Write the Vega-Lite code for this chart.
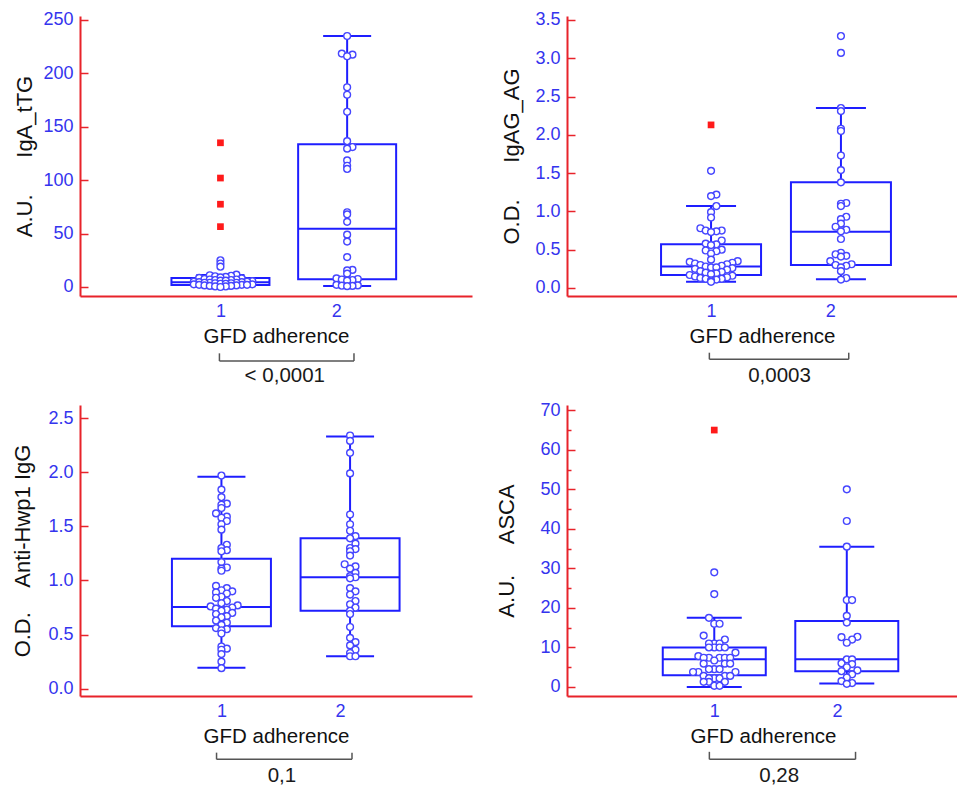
{
"$schema": "https://vega.github.io/schema/vega-lite/v6.json",
"background": "white",
"padding": {"left": 11, "top": 10, "right": 0, "bottom": 0},
"bounds": "flush",
"align": "all",
"columns": 2,
"spacing": {"row": 98, "column": 95},
"datasets": {
"boxes": [
{"p":1,"g":1,"lo":0,"q1":1.8,"med":4.5,"q3":8.4,"hi":11.2},
{"p":1,"g":2,"lo":0.9,"q1":7.2,"med":54.6,"q3":133.6,"hi":235},
{"p":2,"g":1,"lo":0.083,"q1":0.17,"med":0.28,"q3":0.57,"hi":1.07},
{"p":2,"g":2,"lo":0.113,"q1":0.30,"med":0.735,"q3":1.38,"hi":2.35},
{"p":3,"g":1,"lo":0.194,"q1":0.576,"med":0.755,"q3":1.20,"hi":1.96},
{"p":3,"g":2,"lo":0.30,"q1":0.72,"med":1.03,"q3":1.39,"hi":2.33},
{"p":4,"g":1,"lo":0,"q1":3.0,"med":7.0,"q3":10.0,"hi":17.5},
{"p":4,"g":2,"lo":0.9,"q1":4.0,"med":7.0,"q3":16.7,"hi":35.5}
],
"far": [
{"p":1,"g":1,"v":135},{"p":1,"g":1,"v":102},{"p":1,"g":1,"v":77.5},{"p":1,"g":1,"v":56.5},
{"p":2,"g":1,"v":2.13},
{"p":4,"g":1,"v":65}
],
"pts": [
{"p":1,"g":1,"v":25},{"p":1,"g":1,"v":22},{"p":1,"g":1,"v":19},{"p":1,"g":1,"v":11.5},{"p":1,"g":1,"v":11},{"p":1,"g":1,"v":10.5},{"p":1,"g":1,"v":10},{"p":1,"g":1,"v":9.5},{"p":1,"g":1,"v":9},{"p":1,"g":1,"v":8.5},{"p":1,"g":1,"v":8},{"p":1,"g":1,"v":7.5},{"p":1,"g":1,"v":7},{"p":1,"g":1,"v":7},{"p":1,"g":1,"v":6.5},{"p":1,"g":1,"v":6.5},{"p":1,"g":1,"v":6},{"p":1,"g":1,"v":6},{"p":1,"g":1,"v":5.5},{"p":1,"g":1,"v":5},{"p":1,"g":1,"v":5},{"p":1,"g":1,"v":4.5},{"p":1,"g":1,"v":4.5},{"p":1,"g":1,"v":4},{"p":1,"g":1,"v":4},{"p":1,"g":1,"v":4},{"p":1,"g":1,"v":3.5},{"p":1,"g":1,"v":3.5},{"p":1,"g":1,"v":3},{"p":1,"g":1,"v":3},{"p":1,"g":1,"v":2.5},{"p":1,"g":1,"v":2.5},{"p":1,"g":1,"v":2},{"p":1,"g":1,"v":2},{"p":1,"g":1,"v":2},{"p":1,"g":1,"v":1.5},{"p":1,"g":1,"v":1.5},{"p":1,"g":1,"v":1},{"p":1,"g":1,"v":1},{"p":1,"g":1,"v":0.5},{"p":1,"g":1,"v":0.5},{"p":1,"g":1,"v":0},
{"p":1,"g":2,"v":235},{"p":1,"g":2,"v":218.5},{"p":1,"g":2,"v":217.5},{"p":1,"g":2,"v":216},{"p":1,"g":2,"v":187},{"p":1,"g":2,"v":180},{"p":1,"g":2,"v":164},{"p":1,"g":2,"v":136.5},{"p":1,"g":2,"v":131},{"p":1,"g":2,"v":129.5},{"p":1,"g":2,"v":118.5},{"p":1,"g":2,"v":113.5},{"p":1,"g":2,"v":110.5},{"p":1,"g":2,"v":70},{"p":1,"g":2,"v":68},{"p":1,"g":2,"v":61},{"p":1,"g":2,"v":49},{"p":1,"g":2,"v":42.5},{"p":1,"g":2,"v":28},{"p":1,"g":2,"v":16},{"p":1,"g":2,"v":15.5},{"p":1,"g":2,"v":12.5},{"p":1,"g":2,"v":8},{"p":1,"g":2,"v":7.5},{"p":1,"g":2,"v":7},{"p":1,"g":2,"v":6.5},{"p":1,"g":2,"v":6},{"p":1,"g":2,"v":2},{"p":1,"g":2,"v":1.5},{"p":1,"g":2,"v":1.2},{"p":1,"g":2,"v":1},{"p":1,"g":2,"v":0.8},
{"p":2,"g":1,"v":1.53},{"p":2,"g":1,"v":1.22},{"p":2,"g":1,"v":1.20},{"p":2,"g":1,"v":1.07},{"p":2,"g":1,"v":0.99},{"p":2,"g":1,"v":0.92},{"p":2,"g":1,"v":0.78},{"p":2,"g":1,"v":0.75},{"p":2,"g":1,"v":0.75},{"p":2,"g":1,"v":0.74},{"p":2,"g":1,"v":0.73},{"p":2,"g":1,"v":0.62},{"p":2,"g":1,"v":0.58},{"p":2,"g":1,"v":0.57},{"p":2,"g":1,"v":0.56},{"p":2,"g":1,"v":0.50},{"p":2,"g":1,"v":0.49},{"p":2,"g":1,"v":0.48},{"p":2,"g":1,"v":0.45},{"p":2,"g":1,"v":0.37},{"p":2,"g":1,"v":0.35},{"p":2,"g":1,"v":0.34},{"p":2,"g":1,"v":0.33},{"p":2,"g":1,"v":0.32},{"p":2,"g":1,"v":0.31},{"p":2,"g":1,"v":0.30},{"p":2,"g":1,"v":0.29},{"p":2,"g":1,"v":0.28},{"p":2,"g":1,"v":0.27},{"p":2,"g":1,"v":0.27},{"p":2,"g":1,"v":0.26},{"p":2,"g":1,"v":0.25},{"p":2,"g":1,"v":0.24},{"p":2,"g":1,"v":0.22},{"p":2,"g":1,"v":0.21},{"p":2,"g":1,"v":0.20},{"p":2,"g":1,"v":0.19},{"p":2,"g":1,"v":0.18},{"p":2,"g":1,"v":0.17},{"p":2,"g":1,"v":0.16},{"p":2,"g":1,"v":0.15},{"p":2,"g":1,"v":0.14},{"p":2,"g":1,"v":0.13},{"p":2,"g":1,"v":0.12},{"p":2,"g":1,"v":0.12},{"p":2,"g":1,"v":0.11},{"p":2,"g":1,"v":0.10},{"p":2,"g":1,"v":0.08},
{"p":2,"g":2,"v":3.29},{"p":2,"g":2,"v":3.07},{"p":2,"g":2,"v":2.35},{"p":2,"g":2,"v":2.31},{"p":2,"g":2,"v":2.08},{"p":2,"g":2,"v":2.05},{"p":2,"g":2,"v":1.73},{"p":2,"g":2,"v":1.54},{"p":2,"g":2,"v":1.38},{"p":2,"g":2,"v":1.11},{"p":2,"g":2,"v":1.10},{"p":2,"g":2,"v":1.07},{"p":2,"g":2,"v":0.93},{"p":2,"g":2,"v":0.90},{"p":2,"g":2,"v":0.84},{"p":2,"g":2,"v":0.80},{"p":2,"g":2,"v":0.76},{"p":2,"g":2,"v":0.74},{"p":2,"g":2,"v":0.64},{"p":2,"g":2,"v":0.46},{"p":2,"g":2,"v":0.44},{"p":2,"g":2,"v":0.42},{"p":2,"g":2,"v":0.41},{"p":2,"g":2,"v":0.35},{"p":2,"g":2,"v":0.31},{"p":2,"g":2,"v":0.30},{"p":2,"g":2,"v":0.29},{"p":2,"g":2,"v":0.27},{"p":2,"g":2,"v":0.22},{"p":2,"g":2,"v":0.13},{"p":2,"g":2,"v":0.11},
{"p":3,"g":1,"v":1.97},{"p":3,"g":1,"v":1.84},{"p":3,"g":1,"v":1.77},{"p":3,"g":1,"v":1.71},{"p":3,"g":1,"v":1.70},{"p":3,"g":1,"v":1.67},{"p":3,"g":1,"v":1.62},{"p":3,"g":1,"v":1.59},{"p":3,"g":1,"v":1.58},{"p":3,"g":1,"v":1.55},{"p":3,"g":1,"v":1.52},{"p":3,"g":1,"v":1.47},{"p":3,"g":1,"v":1.33},{"p":3,"g":1,"v":1.30},{"p":3,"g":1,"v":1.28},{"p":3,"g":1,"v":1.27},{"p":3,"g":1,"v":1.17},{"p":3,"g":1,"v":1.12},{"p":3,"g":1,"v":1.11},{"p":3,"g":1,"v":1.09},{"p":3,"g":1,"v":0.95},{"p":3,"g":1,"v":0.93},{"p":3,"g":1,"v":0.91},{"p":3,"g":1,"v":0.90},{"p":3,"g":1,"v":0.89},{"p":3,"g":1,"v":0.88},{"p":3,"g":1,"v":0.85},{"p":3,"g":1,"v":0.84},{"p":3,"g":1,"v":0.81},{"p":3,"g":1,"v":0.79},{"p":3,"g":1,"v":0.77},{"p":3,"g":1,"v":0.76},{"p":3,"g":1,"v":0.75},{"p":3,"g":1,"v":0.74},{"p":3,"g":1,"v":0.73},{"p":3,"g":1,"v":0.72},{"p":3,"g":1,"v":0.70},{"p":3,"g":1,"v":0.69},{"p":3,"g":1,"v":0.67},{"p":3,"g":1,"v":0.66},{"p":3,"g":1,"v":0.63},{"p":3,"g":1,"v":0.61},{"p":3,"g":1,"v":0.59},{"p":3,"g":1,"v":0.56},{"p":3,"g":1,"v":0.55},{"p":3,"g":1,"v":0.54},{"p":3,"g":1,"v":0.51},{"p":3,"g":1,"v":0.39},{"p":3,"g":1,"v":0.37},{"p":3,"g":1,"v":0.36},{"p":3,"g":1,"v":0.32},{"p":3,"g":1,"v":0.25},{"p":3,"g":1,"v":0.19},
{"p":3,"g":2,"v":2.34},{"p":3,"g":2,"v":2.29},{"p":3,"g":2,"v":2.18},{"p":3,"g":2,"v":1.99},{"p":3,"g":2,"v":1.61},{"p":3,"g":2,"v":1.52},{"p":3,"g":2,"v":1.46},{"p":3,"g":2,"v":1.41},{"p":3,"g":2,"v":1.39},{"p":3,"g":2,"v":1.34},{"p":3,"g":2,"v":1.30},{"p":3,"g":2,"v":1.29},{"p":3,"g":2,"v":1.27},{"p":3,"g":2,"v":1.23},{"p":3,"g":2,"v":1.15},{"p":3,"g":2,"v":1.13},{"p":3,"g":2,"v":1.11},{"p":3,"g":2,"v":1.07},{"p":3,"g":2,"v":1.04},{"p":3,"g":2,"v":1.03},{"p":3,"g":2,"v":1.02},{"p":3,"g":2,"v":0.93},{"p":3,"g":2,"v":0.90},{"p":3,"g":2,"v":0.87},{"p":3,"g":2,"v":0.81},{"p":3,"g":2,"v":0.78},{"p":3,"g":2,"v":0.75},{"p":3,"g":2,"v":0.72},{"p":3,"g":2,"v":0.69},{"p":3,"g":2,"v":0.57},{"p":3,"g":2,"v":0.47},{"p":3,"g":2,"v":0.43},{"p":3,"g":2,"v":0.40},{"p":3,"g":2,"v":0.36},{"p":3,"g":2,"v":0.33},{"p":3,"g":2,"v":0.30},{"p":3,"g":2,"v":0.30},
{"p":4,"g":1,"v":29},{"p":4,"g":1,"v":23.5},{"p":4,"g":1,"v":17.5},{"p":4,"g":1,"v":16},{"p":4,"g":1,"v":16},{"p":4,"g":1,"v":13},{"p":4,"g":1,"v":12},{"p":4,"g":1,"v":11},{"p":4,"g":1,"v":11},{"p":4,"g":1,"v":11},{"p":4,"g":1,"v":10},{"p":4,"g":1,"v":10},{"p":4,"g":1,"v":10},{"p":4,"g":1,"v":10},{"p":4,"g":1,"v":8.7},{"p":4,"g":1,"v":7.8},{"p":4,"g":1,"v":7.4},{"p":4,"g":1,"v":7.4},{"p":4,"g":1,"v":7.4},{"p":4,"g":1,"v":7.4},{"p":4,"g":1,"v":7.4},{"p":4,"g":1,"v":6.7},{"p":4,"g":1,"v":5.9},{"p":4,"g":1,"v":5.9},{"p":4,"g":1,"v":5.9},{"p":4,"g":1,"v":4.5},{"p":4,"g":1,"v":4.5},{"p":4,"g":1,"v":4.5},{"p":4,"g":1,"v":3.8},{"p":4,"g":1,"v":3.8},{"p":4,"g":1,"v":3.8},{"p":4,"g":1,"v":2.8},{"p":4,"g":1,"v":2.8},{"p":4,"g":1,"v":2.8},{"p":4,"g":1,"v":2.2},{"p":4,"g":1,"v":2.2},{"p":4,"g":1,"v":2.2},{"p":4,"g":1,"v":1.3},{"p":4,"g":1,"v":1.3},{"p":4,"g":1,"v":1.3},{"p":4,"g":1,"v":0.3},{"p":4,"g":1,"v":0.3},
{"p":4,"g":2,"v":50},{"p":4,"g":2,"v":42},{"p":4,"g":2,"v":35.5},{"p":4,"g":2,"v":22},{"p":4,"g":2,"v":22},{"p":4,"g":2,"v":18},{"p":4,"g":2,"v":16.3},{"p":4,"g":2,"v":12.7},{"p":4,"g":2,"v":12.6},{"p":4,"g":2,"v":12},{"p":4,"g":2,"v":11.2},{"p":4,"g":2,"v":7},{"p":4,"g":2,"v":7},{"p":4,"g":2,"v":6},{"p":4,"g":2,"v":5.8},{"p":4,"g":2,"v":5},{"p":4,"g":2,"v":4.2},{"p":4,"g":2,"v":4},{"p":4,"g":2,"v":3.2},{"p":4,"g":2,"v":2.4},{"p":4,"g":2,"v":1.5},{"p":4,"g":2,"v":1},{"p":4,"g":2,"v":0.8}
]
},
"concat": [
{
"width": 392, "height": 280,
"layer": [
{"data": {"name": "boxes"}, "transform": [{"filter": "datum.p == 1"}],
 "mark": {"type": "rule", "color": "#1e1eff", "strokeWidth": 2},
 "encoding": {
  "x": {"field": "g", "type": "quantitative", "title": "GFD adherence", "scale": {"domain": [-0.069, 2.946], "nice": false, "zero": false}, "axis": {"values": [1, 1.915], "labelExpr": "datum.value < 1.5 ? '1' : '2'"}},
  "y": {"field": "lo", "type": "quantitative", "title": "A.U.\u00a0\u00a0\u00a0\u00a0\u00a0\u00a0IgA_tTG", "scale": {"domain": [-8.43, 253.7], "nice": false, "zero": false}, "axis": {"values": [0, 50, 100, 150, 200, 250], "labelOverlap": false, "titlePadding": 6}},
  "y2": {"field": "q1"}}},
{"data": {"name": "boxes"}, "transform": [{"filter": "datum.p == 1"}],
 "mark": {"type": "rule", "color": "#1e1eff", "strokeWidth": 2},
 "encoding": {"x": {"field": "g", "type": "quantitative", "title": "GFD adherence"}, "y": {"field": "q3", "type": "quantitative", "title": "A.U.\u00a0\u00a0\u00a0\u00a0\u00a0\u00a0IgA_tTG"}, "y2": {"field": "hi"}}},
{"data": {"name": "boxes"}, "transform": [{"filter": "datum.p == 1"}],
 "mark": {"type": "bar", "width": 98, "fill": "transparent", "stroke": "#1e1eff", "strokeWidth": 2},
 "encoding": {"x": {"field": "g", "type": "quantitative", "title": "GFD adherence"}, "y": {"field": "q1", "type": "quantitative", "title": "A.U.\u00a0\u00a0\u00a0\u00a0\u00a0\u00a0IgA_tTG"}, "y2": {"field": "q3"}}},
{"data": {"name": "boxes"}, "transform": [{"filter": "datum.p == 1"}],
 "mark": {"type": "tick", "orient": "horizontal", "size": 98, "thickness": 2, "color": "#1e1eff", "opacity": 1},
 "encoding": {"x": {"field": "g", "type": "quantitative", "title": "GFD adherence"}, "y": {"field": "med", "type": "quantitative", "title": "A.U.\u00a0\u00a0\u00a0\u00a0\u00a0\u00a0IgA_tTG"}}},
{"data": {"name": "boxes"}, "transform": [{"filter": "datum.p == 1"}, {"fold": ["lo", "hi"], "as": ["w", "c"]}],
 "mark": {"type": "tick", "orient": "horizontal", "size": 48, "thickness": 2, "color": "#1e1eff", "opacity": 1},
 "encoding": {"x": {"field": "g", "type": "quantitative", "title": "GFD adherence"}, "y": {"field": "c", "type": "quantitative", "title": "A.U.\u00a0\u00a0\u00a0\u00a0\u00a0\u00a0IgA_tTG"}}},
{"data": {"name": "pts"}, "transform": [{"filter": "datum.p == 1"}, {"calculate": "floor(datum.v / 3)", "as": "b"}, {"window": [{"op": "row_number", "as": "r"}], "groupby": ["g", "b"], "sort": [{"field": "v", "order": "ascending"}]}, {"calculate": "datum.g + (datum.r % 2 == 0 ? 1 : -1) * floor(datum.r / 2) * 0.042", "as": "xs"}],
 "mark": {"type": "point", "shape": "circle", "filled": true, "fill": "white", "stroke": "#4646ff", "strokeWidth": 1.4, "size": 46, "opacity": 1},
 "encoding": {"x": {"field": "xs", "type": "quantitative", "title": "GFD adherence"}, "y": {"field": "v", "type": "quantitative", "title": "A.U.\u00a0\u00a0\u00a0\u00a0\u00a0\u00a0IgA_tTG"}}},
{"data": {"name": "far"}, "transform": [{"filter": "datum.p == 1"}],
 "mark": {"type": "square", "color": "#ff1a1a", "size": 45, "opacity": 1},
 "encoding": {"x": {"field": "g", "type": "quantitative", "title": "GFD adherence"}, "y": {"field": "v", "type": "quantitative", "title": "A.U.\u00a0\u00a0\u00a0\u00a0\u00a0\u00a0IgA_tTG"}}},
{"data": {"values": [{}]}, "mark": {"type": "rule", "color": "#555555", "strokeWidth": 1.5},
 "encoding": {"x": {"datum": 0.992}, "x2": {"datum": 2.054}, "y": {"datum": -69.3}}},
{"data": {"values": [{}]}, "mark": {"type": "rule", "color": "#555555", "strokeWidth": 1.5},
 "encoding": {"x": {"datum": 0.992}, "y": {"datum": -69.3}, "y2": {"datum": -62.1}}},
{"data": {"values": [{}]}, "mark": {"type": "rule", "color": "#555555", "strokeWidth": 1.5},
 "encoding": {"x": {"datum": 2.054}, "y": {"datum": -69.3}, "y2": {"datum": -62.1}}},
{"data": {"values": [{}]}, "mark": {"type": "text", "text": "< 0,0001", "font": "Liberation Sans", "fontSize": 20.5, "color": "#1a1a1a", "align": "center", "baseline": "middle"},
 "encoding": {"x": {"datum": 1.508}, "y": {"datum": -83.3}}}
]
},
{
"width": 390, "height": 280,
"layer": [
{"data": {"name": "boxes"}, "transform": [{"filter": "datum.p == 2"}],
 "mark": {"type": "rule", "color": "#1e1eff", "strokeWidth": 2},
 "encoding": {
  "x": {"field": "g", "type": "quantitative", "title": "GFD adherence", "scale": {"domain": [-0.0705, 2.855], "nice": false, "zero": false}, "axis": {"values": [1, 1.917], "labelExpr": "datum.value < 1.5 ? '1' : '2'"}},
  "y": {"field": "lo", "type": "quantitative", "title": "O.D.\u00a0\u00a0\u00a0\u00a0\u00a0\u00a0IgAG_AG", "scale": {"domain": [-0.1045, 3.552], "nice": false, "zero": false}, "axis": {"values": [0, 0.5, 1, 1.5, 2, 2.5, 3, 3.5], "tickCount": 8, "format": ".1f", "labelOverlap": false, "labelSeparation": -30, "labelBound": false, "titlePadding": 11}},
  "y2": {"field": "q1"}}},
{"data": {"name": "boxes"}, "transform": [{"filter": "datum.p == 2"}],
 "mark": {"type": "rule", "color": "#1e1eff", "strokeWidth": 2},
 "encoding": {"x": {"field": "g", "type": "quantitative", "title": "GFD adherence"}, "y": {"field": "q3", "type": "quantitative", "title": "O.D.\u00a0\u00a0\u00a0\u00a0\u00a0\u00a0IgAG_AG"}, "y2": {"field": "hi"}}},
{"data": {"name": "boxes"}, "transform": [{"filter": "datum.p == 2"}],
 "mark": {"type": "bar", "width": 100, "fill": "transparent", "stroke": "#1e1eff", "strokeWidth": 2},
 "encoding": {"x": {"field": "g", "type": "quantitative", "title": "GFD adherence"}, "y": {"field": "q1", "type": "quantitative", "title": "O.D.\u00a0\u00a0\u00a0\u00a0\u00a0\u00a0IgAG_AG"}, "y2": {"field": "q3"}}},
{"data": {"name": "boxes"}, "transform": [{"filter": "datum.p == 2"}],
 "mark": {"type": "tick", "orient": "horizontal", "size": 100, "thickness": 2, "color": "#1e1eff", "opacity": 1},
 "encoding": {"x": {"field": "g", "type": "quantitative", "title": "GFD adherence"}, "y": {"field": "med", "type": "quantitative", "title": "O.D.\u00a0\u00a0\u00a0\u00a0\u00a0\u00a0IgAG_AG"}}},
{"data": {"name": "boxes"}, "transform": [{"filter": "datum.p == 2"}, {"fold": ["lo", "hi"], "as": ["w", "c"]}],
 "mark": {"type": "tick", "orient": "horizontal", "size": 50, "thickness": 2, "color": "#1e1eff", "opacity": 1},
 "encoding": {"x": {"field": "g", "type": "quantitative", "title": "GFD adherence"}, "y": {"field": "c", "type": "quantitative", "title": "O.D.\u00a0\u00a0\u00a0\u00a0\u00a0\u00a0IgAG_AG"}}},
{"data": {"name": "pts"}, "transform": [{"filter": "datum.p == 2"}, {"calculate": "floor(datum.v / 0.09 + 0.0001)", "as": "b"}, {"window": [{"op": "row_number", "as": "r"}], "groupby": ["g", "b"], "sort": [{"field": "v", "order": "ascending"}]}, {"calculate": "datum.g + (datum.r % 2 == 0 ? 1 : -1) * floor(datum.r / 2) * 0.041", "as": "xs"}],
 "mark": {"type": "point", "shape": "circle", "filled": true, "fill": "white", "stroke": "#4646ff", "strokeWidth": 1.4, "size": 46, "opacity": 1},
 "encoding": {"x": {"field": "xs", "type": "quantitative", "title": "GFD adherence"}, "y": {"field": "v", "type": "quantitative", "title": "O.D.\u00a0\u00a0\u00a0\u00a0\u00a0\u00a0IgAG_AG"}}},
{"data": {"name": "far"}, "transform": [{"filter": "datum.p == 2"}],
 "mark": {"type": "square", "color": "#ff1a1a", "size": 45, "opacity": 1},
 "encoding": {"x": {"field": "g", "type": "quantitative", "title": "GFD adherence"}, "y": {"field": "v", "type": "quantitative", "title": "O.D.\u00a0\u00a0\u00a0\u00a0\u00a0\u00a0IgAG_AG"}}},
{"data": {"values": [{}]}, "mark": {"type": "rule", "color": "#555555", "strokeWidth": 1.5},
 "encoding": {"x": {"datum": 0.987}, "x2": {"datum": 2.06}, "y": {"datum": -0.931}}},
{"data": {"values": [{}]}, "mark": {"type": "rule", "color": "#555555", "strokeWidth": 1.5},
 "encoding": {"x": {"datum": 0.987}, "y": {"datum": -0.931}, "y2": {"datum": -0.845}}},
{"data": {"values": [{}]}, "mark": {"type": "rule", "color": "#555555", "strokeWidth": 1.5},
 "encoding": {"x": {"datum": 2.06}, "y": {"datum": -0.931}, "y2": {"datum": -0.845}}},
{"data": {"values": [{}]}, "mark": {"type": "text", "text": "0,0003", "font": "Liberation Sans", "fontSize": 20.5, "color": "#1a1a1a", "align": "center", "baseline": "middle"},
 "encoding": {"x": {"datum": 1.527}, "y": {"datum": -1.149}}}
]
},
{
"width": 392, "height": 291,
"layer": [
{"data": {"name": "boxes"}, "transform": [{"filter": "datum.p == 3"}],
 "mark": {"type": "rule", "color": "#1e1eff", "strokeWidth": 2},
 "encoding": {
  "x": {"field": "g", "type": "quantitative", "title": "GFD adherence", "scale": {"domain": [-0.0606, 2.909], "nice": false, "zero": false}, "axis": {"values": [1, 1.922], "labelExpr": "datum.value < 1.5 ? '1' : '2'"}},
  "y": {"field": "lo", "type": "quantitative", "title": "O.D.\u00a0\u00a0\u00a0\u00a0Anti-Hwp1 IgG", "scale": {"domain": [-0.0675, 2.622], "nice": false, "zero": false}, "axis": {"values": [0, 0.5, 1, 1.5, 2, 2.5], "format": ".1f", "labelOverlap": false, "titlePadding": 13}},
  "y2": {"field": "q1"}}},
{"data": {"name": "boxes"}, "transform": [{"filter": "datum.p == 3"}],
 "mark": {"type": "rule", "color": "#1e1eff", "strokeWidth": 2},
 "encoding": {"x": {"field": "g", "type": "quantitative", "title": "GFD adherence"}, "y": {"field": "q3", "type": "quantitative", "title": "O.D.\u00a0\u00a0\u00a0\u00a0Anti-Hwp1 IgG"}, "y2": {"field": "hi"}}},
{"data": {"name": "boxes"}, "transform": [{"filter": "datum.p == 3"}],
 "mark": {"type": "bar", "width": 99, "fill": "transparent", "stroke": "#1e1eff", "strokeWidth": 2},
 "encoding": {"x": {"field": "g", "type": "quantitative", "title": "GFD adherence"}, "y": {"field": "q1", "type": "quantitative", "title": "O.D.\u00a0\u00a0\u00a0\u00a0Anti-Hwp1 IgG"}, "y2": {"field": "q3"}}},
{"data": {"name": "boxes"}, "transform": [{"filter": "datum.p == 3"}],
 "mark": {"type": "tick", "orient": "horizontal", "size": 99, "thickness": 2, "color": "#1e1eff", "opacity": 1},
 "encoding": {"x": {"field": "g", "type": "quantitative", "title": "GFD adherence"}, "y": {"field": "med", "type": "quantitative", "title": "O.D.\u00a0\u00a0\u00a0\u00a0Anti-Hwp1 IgG"}}},
{"data": {"name": "boxes"}, "transform": [{"filter": "datum.p == 3"}, {"fold": ["lo", "hi"], "as": ["w", "c"]}],
 "mark": {"type": "tick", "orient": "horizontal", "size": 48, "thickness": 2, "color": "#1e1eff", "opacity": 1},
 "encoding": {"x": {"field": "g", "type": "quantitative", "title": "GFD adherence"}, "y": {"field": "c", "type": "quantitative", "title": "O.D.\u00a0\u00a0\u00a0\u00a0Anti-Hwp1 IgG"}}},
{"data": {"name": "pts"}, "transform": [{"filter": "datum.p == 3"}, {"calculate": "floor(datum.v / 0.065 + 0.0001)", "as": "b"}, {"window": [{"op": "row_number", "as": "r"}], "groupby": ["g", "b"], "sort": [{"field": "v", "order": "ascending"}]}, {"calculate": "datum.g + (datum.r % 2 == 0 ? 1 : -1) * floor(datum.r / 2) * 0.042", "as": "xs"}],
 "mark": {"type": "point", "shape": "circle", "filled": true, "fill": "white", "stroke": "#4646ff", "strokeWidth": 1.4, "size": 46, "opacity": 1},
 "encoding": {"x": {"field": "xs", "type": "quantitative", "title": "GFD adherence"}, "y": {"field": "v", "type": "quantitative", "title": "O.D.\u00a0\u00a0\u00a0\u00a0Anti-Hwp1 IgG"}}},
{"data": {"values": [{}]}, "mark": {"type": "rule", "color": "#555555", "strokeWidth": 1.5},
 "encoding": {"x": {"datum": 0.962}, "x2": {"datum": 2.015}, "y": {"datum": -0.653}}},
{"data": {"values": [{}]}, "mark": {"type": "rule", "color": "#555555", "strokeWidth": 1.5},
 "encoding": {"x": {"datum": 0.962}, "y": {"datum": -0.653}, "y2": {"datum": -0.591}}},
{"data": {"values": [{}]}, "mark": {"type": "rule", "color": "#555555", "strokeWidth": 1.5},
 "encoding": {"x": {"datum": 2.015}, "y": {"datum": -0.653}, "y2": {"datum": -0.591}}},
{"data": {"values": [{}]}, "mark": {"type": "text", "text": "0,1", "font": "Liberation Sans", "fontSize": 20.5, "color": "#1a1a1a", "align": "center", "baseline": "middle"},
 "encoding": {"x": {"datum": 1.47}, "y": {"datum": -0.807}}}
]
},
{
"width": 392, "height": 291,
"resolve": {"axis": {"y": "independent"}},
"layer": [
{"layer": [
{"data": {"name": "boxes"}, "transform": [{"filter": "datum.p == 4"}],
 "mark": {"type": "rule", "color": "#1e1eff", "strokeWidth": 2},
 "encoding": {
  "x": {"field": "g", "type": "quantitative", "title": "GFD adherence", "scale": {"domain": [-0.0735, 2.809], "nice": false, "zero": false}, "axis": {"values": [1, 1.926], "labelExpr": "datum.value < 1.5 ? '1' : '2'"}},
  "y": {"field": "lo", "type": "quantitative", "title": "A.U.\u00a0\u00a0\u00a0\u00a0\u00a0ASCA", "scale": {"domain": [-2.277, 71.34], "nice": false, "zero": false}, "axis": {"values": [0, 10, 20, 30, 40, 50, 60, 70], "labelOverlap": false, "titlePadding": 21}},
  "y2": {"field": "q1"}}},
{"data": {"name": "boxes"}, "transform": [{"filter": "datum.p == 4"}],
 "mark": {"type": "rule", "color": "#1e1eff", "strokeWidth": 2},
 "encoding": {"x": {"field": "g", "type": "quantitative", "title": "GFD adherence"}, "y": {"field": "q3", "type": "quantitative", "title": "A.U.\u00a0\u00a0\u00a0\u00a0\u00a0ASCA"}, "y2": {"field": "hi"}}},
{"data": {"name": "boxes"}, "transform": [{"filter": "datum.p == 4"}],
 "mark": {"type": "bar", "width": 103, "fill": "transparent", "stroke": "#1e1eff", "strokeWidth": 2},
 "encoding": {"x": {"field": "g", "type": "quantitative", "title": "GFD adherence"}, "y": {"field": "q1", "type": "quantitative", "title": "A.U.\u00a0\u00a0\u00a0\u00a0\u00a0ASCA"}, "y2": {"field": "q3"}}},
{"data": {"name": "boxes"}, "transform": [{"filter": "datum.p == 4"}],
 "mark": {"type": "tick", "orient": "horizontal", "size": 103, "thickness": 2, "color": "#1e1eff", "opacity": 1},
 "encoding": {"x": {"field": "g", "type": "quantitative", "title": "GFD adherence"}, "y": {"field": "med", "type": "quantitative", "title": "A.U.\u00a0\u00a0\u00a0\u00a0\u00a0ASCA"}}},
{"data": {"name": "boxes"}, "transform": [{"filter": "datum.p == 4"}, {"fold": ["lo", "hi"], "as": ["w", "c"]}],
 "mark": {"type": "tick", "orient": "horizontal", "size": 55, "thickness": 2, "color": "#1e1eff", "opacity": 1},
 "encoding": {"x": {"field": "g", "type": "quantitative", "title": "GFD adherence"}, "y": {"field": "c", "type": "quantitative", "title": "A.U.\u00a0\u00a0\u00a0\u00a0\u00a0ASCA"}}},
{"data": {"name": "pts"}, "transform": [{"filter": "datum.p == 4"}, {"calculate": "floor(datum.v / 2.2 + 0.0001)", "as": "b"}, {"window": [{"op": "row_number", "as": "r"}], "groupby": ["g", "b"], "sort": [{"field": "v", "order": "ascending"}]}, {"calculate": "datum.g + (datum.r % 2 == 0 ? 1 : -1) * floor(datum.r / 2) * 0.04", "as": "xs"}],
 "mark": {"type": "point", "shape": "circle", "filled": true, "fill": "white", "stroke": "#4646ff", "strokeWidth": 1.4, "size": 46, "opacity": 1},
 "encoding": {"x": {"field": "xs", "type": "quantitative", "title": "GFD adherence"}, "y": {"field": "v", "type": "quantitative", "title": "A.U.\u00a0\u00a0\u00a0\u00a0\u00a0ASCA"}}},
{"data": {"name": "far"}, "transform": [{"filter": "datum.p == 4"}],
 "mark": {"type": "square", "color": "#ff1a1a", "size": 45, "opacity": 1},
 "encoding": {"x": {"field": "g", "type": "quantitative", "title": "GFD adherence"}, "y": {"field": "v", "type": "quantitative", "title": "A.U.\u00a0\u00a0\u00a0\u00a0\u00a0ASCA"}}},
{"data": {"values": [{}]}, "mark": {"type": "rule", "color": "#555555", "strokeWidth": 1.5},
 "encoding": {"x": {"datum": 0.963}, "x2": {"datum": 2.066}, "y": {"datum": -18.3}}},
{"data": {"values": [{}]}, "mark": {"type": "rule", "color": "#555555", "strokeWidth": 1.5},
 "encoding": {"x": {"datum": 0.963}, "y": {"datum": -18.3}, "y2": {"datum": -16.4}}},
{"data": {"values": [{}]}, "mark": {"type": "rule", "color": "#555555", "strokeWidth": 1.5},
 "encoding": {"x": {"datum": 2.066}, "y": {"datum": -18.3}, "y2": {"datum": -16.4}}},
{"data": {"values": [{}]}, "mark": {"type": "text", "text": "0,28", "font": "Liberation Sans", "fontSize": 20.5, "color": "#1a1a1a", "align": "center", "baseline": "middle"},
 "encoding": {"x": {"datum": 1.49}, "y": {"datum": -22.5}}}
]},
{"data": {"name": "far"}, "transform": [{"filter": "datum.p == 4"}],
 "mark": {"type": "point", "opacity": 0},
 "encoding": {"x": {"field": "g", "type": "quantitative", "title": "GFD adherence"}, "y": {"field": "v", "type": "quantitative", "axis": {"orient": "left", "values": [5, 15, 25, 35, 45, 55, 65], "labels": false, "domain": false, "tickSize": -4, "title": null}}}}
]
}
],
"config": {
 "font": "Liberation Sans",
 "view": {"stroke": null},
 "axis": {"grid": false, "domainColor": "#e8232a", "domainWidth": 2, "tickColor": "#e8232a", "tickWidth": 1.5, "labelFont": "Liberation Sans", "labelFontSize": 18, "labelColor": "#3434ee", "labelFlush": false, "labelOverlap": false, "titleFont": "Liberation Sans", "titleFontWeight": "normal", "titleColor": "#111111"},
 "axisX": {"ticks": false, "labelPadding": 6, "titleFontSize": 20.5, "titlePadding": 6},
 "axisY": {"tickSize": -8, "labelPadding": 15, "titleFontSize": 22}
}
}
